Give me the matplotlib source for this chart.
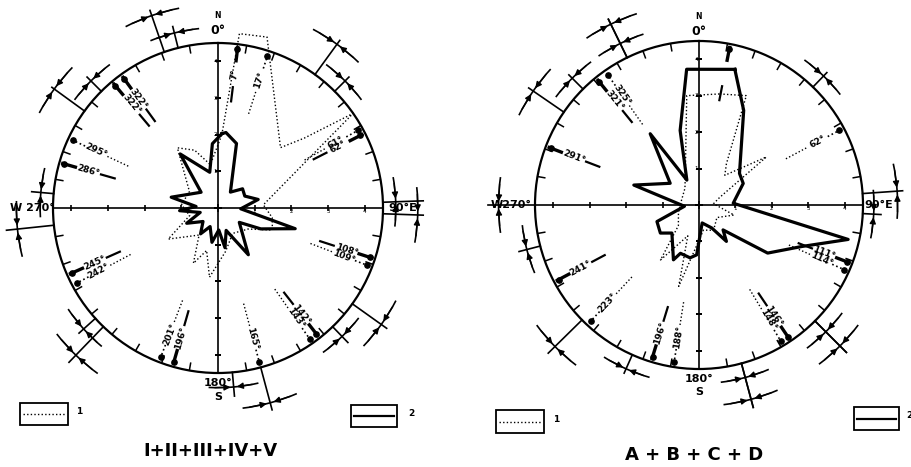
import numpy as np
import matplotlib
matplotlib.use('Agg')
import matplotlib.pyplot as plt
from matplotlib.patches import Arc, Rectangle
from matplotlib.lines import Line2D

# Values: compass bearing in degrees (clockwise from N)
# and radius in scale units (the outer circle is 4.5 units).

### Left rose: I + II + III + IV + V ###
left_solid_deg = [3, 6, 16, 38, 52, 66, 78, 92, 105, 116, 124, 147, 160, 170, 178,
                  190, 203, 214, 228, 244, 256, 266, 274, 283, 313, 325, 347, 355]
left_solid_r = [2.03, 2.07, 1.83, 0.55, 0.85, 0.80, 1.12, 0.62, 2.18, 1.30, 0.70, 1.52, 0.65, 1.10, 0.60,
                0.95, 0.55, 0.85, 0.55, 0.95, 0.50, 1.05, 0.60, 1.31, 0.63, 1.80, 1.00, 1.76]
left_dot_deg = [3, 7, 16, 46, 51, 55, 86, 100, 112, 125, 150, 170, 187, 195, 204, 215,
                238, 255, 275, 300, 326, 338, 350]
left_dot_r = [2.0, 4.79, 4.85, 2.37, 3.03, 4.5, 1.24, 1.5, 1.6, 1.0, 0.8, 1.2, 1.9, 1.2, 1.65, 0.9,
              1.6, 0.8, 1.0, 0.9, 1.98, 1.7, 1.2]
left_mark_deg = [7, 18, 61, 63, 108, 111, 142, 145, 165, 196, 201, 242, 246, 286, 295, 320, 324]
left_mark_lab = ['7°', '17°', '61°', '62°', '108°', '109°', '142°', '143°', '165°', '196°', '201°',
                 '242°', '245°', '286°', '295°', '322°', '322°']
left_mark_kind = ['s', 'd', 'd', 's', 's', 'd', 's', 'd', 'd', 's', 'd', 'd', 's', 's', 'd', 's', 's']
left_range_deg = [341, 346, 306, 315, 275, 264, 36, 45, 88, 92, 125.5, 136, 165, 175, 224, 228]
left_range_len = [5.7, 5.1, 5.6, 5.05, 5.1, 5.8, 5.65, 5.05, 5.6, 5.6, 5.65, 5.1, 5.7, 5.15, 5.85, 5.1]
left_range_arc = [5.55, 4.92, 5.52, 4.9, 4.85, 5.5, 5.52, 4.9, 4.85, 5.45, 5.47, 4.87, 5.5, 4.9, 5.58, 4.93]

### Right rose: A + B + C + D ###
right_solid_deg = [14.8, 25.3, 52, 64, 87, 103, 112, 125, 136, 143, 151, 170, 182.7, 189.6,
                   201, 205, 224, 234, 248.5, 265, 287, 307, 325.6, 334, 345.8, 354.8]
right_solid_r = [3.85, 2.87, 1.41, 1.35, 0.94, 4.2, 3.04, 2.3, 0.95, 1.25, 0.72, 0.5, 1.37, 1.47,
                 1.42, 1.66, 1.07, 1.31, 1.24, 0.4, 1.87, 0.99, 2.37, 0.76, 2.11, 3.74]
right_dot_deg = [10.6, 23.4, 33.6, 41, 54.5, 70, 85, 106, 125, 150, 170, 194, 200, 215,
                 225, 250, 280, 320, 334, 353.6]
right_dot_r = [3.1, 3.27, 1.36, 1.08, 2.27, 0.6, 0.4, 1.0, 0.6, 0.8, 0.7, 2.3, 0.9, 1.84,
               0.8, 0.6, 0.5, 0.6, 0.86, 3.02]
right_mark_deg = [11, 62, 111, 114, 146, 149, 189, 197, 223, 242, 291, 321, 325]
right_mark_lab = ['', '62°', '111°', '114°', '146°', '148°', '188°', '196°', '223°', '241°',
                  '291°', '321°', '325°']
right_mark_kind = ['s', 'd', 's', 'd', 's', 'd', 'd', 's', 'd', 's', 's', 's', 'd']
right_range_deg = [334, 334, 304.5, 315, 270, 255.5, 225.5, 204, 165, 165, 135, 135, 86, 93, 44]
right_range_len = [5.67, 5.67, 5.67, 5.05, 5.8, 5.1, 5.8, 5.05, 5.75, 5.75, 5.72, 5.72, 5.6, 5.0, 5.05]
right_range_arc = [5.52, 4.93, 5.52, 4.92, 5.5, 4.88, 5.54, 4.92, 4.9, 5.52, 4.92, 5.47, 5.45, 4.8, 4.92]

RMAX = 4.5
W, H = 912, 467
DOT = (0, (1, 1.6))
BOLD = dict(fontweight='bold', color='k')


def setup(ax):
    ax.set_theta_zero_location('N')
    ax.set_theta_direction(-1)
    ax.set_ylim(0, RMAX)
    ax.grid(False)
    ax.set_xticks([])
    ax.set_yticks([])
    ax.spines['polar'].set_linewidth(1.6)
    # the N-S / E-W cross with unit ticks
    for a in (0, 90, 180, 270):
        t = np.radians(a)
        ax.plot([t, t], [0, RMAX], color='k', lw=1.2)
        ax.plot([t] * 4, [1, 2, 3, 4], ls='none', marker='_' if a in (0, 180) else '|',
                ms=5, mew=1.2, color='k')
    for i in (1, 2, 3, 4):
        ax.text(np.radians(-4.5 / i), i, str(i), fontsize=4, ha='center', va='center')
        ax.text(np.radians(90 + 5 / i), i, str(i), fontsize=4, ha='center', va='center')
    ax.plot(0, 0, marker='+', ms=6, mew=1.2, color='k')
    # ticks round the rim every 10 degrees
    for a in range(10, 360, 10):
        if a % 90:
            ax.plot([np.radians(a)] * 2, [RMAX * 0.955, RMAX], color='k', lw=1.1)


def rose(ax, deg, r, **kw):
    t = np.radians(list(deg) + [deg[0]])
    ax.plot(t, list(r) + [r[0]], color='k', clip_on=False, **kw)


def marks(ax, deg, lab, kind):
    for a, s, k in zip(deg, lab, kind):
        t = np.radians(a)
        if k == 's':
            ax.plot([t, t], [4.0, 4.45], color='k', lw=2.4, solid_capstyle='butt')
            ax.plot([t, t], [2.9, 3.35], color='k', lw=1.6, solid_capstyle='butt')
        else:
            ax.plot([t, t], [4.0, 4.45], color='k', lw=1.2, ls=DOT)
            ax.plot([t, t], [2.7, 3.35], color='k', lw=1.0, ls=DOT)
        ax.plot(t, 4.36, marker='o', ms=3.8, color='k')
        rot = (90 - a + 90) % 180 - 90
        ax.text(t, 3.68, s, rotation=rot, rotation_mode='anchor', ha='center', va='center',
                fontsize=6.5, **BOLD)


def ranges(ax, deg, length, arc_r, half=8):
    for a, L, ra in zip(deg, length, arc_r):
        t = np.radians(a)
        ax.plot([t, t], [RMAX, L], color='k', lw=1.2, clip_on=False)
        d = ra / RMAX
        ax.add_patch(Arc((0.5, 0.5), d, d, theta1=90 - a - half, theta2=90 - a + half,
                         transform=ax.transAxes, color='k', lw=1.2, clip_on=False))
        for sgn in (-1, 1):
            ax.annotate('', xy=(np.radians(a + sgn * 1.0), ra), xytext=(np.radians(a + sgn * 6), ra),
                        arrowprops=dict(arrowstyle='-|>', color='k', lw=1.0, mutation_scale=9,
                                        shrinkA=0, shrinkB=0),
                        annotation_clip=False)


def cardinals(ax, r_n, r_0, r_180, r_s, r_w, r_e, wtxt, etxt):
    ax.text(0, r_n, 'N', fontsize=5.5, ha='center', va='center', **BOLD)
    ax.text(0, r_0, '0°', fontsize=9, ha='center', va='center', **BOLD)
    ax.text(np.pi, r_180, '180°', fontsize=8, ha='center', va='center', **BOLD)
    ax.text(np.pi, r_s, 'S', fontsize=8, ha='center', va='center', **BOLD)
    ax.text(np.radians(270), r_w, wtxt, fontsize=8, ha='center', va='center', **BOLD)
    ax.text(np.radians(90), r_e, etxt, fontsize=8, ha='center', va='center', **BOLD)


def legend_box(fig, x0, y0, x1, y1, ls, lw, label, lx, ly):
    fig.add_artist(Rectangle((x0 / W, 1 - y1 / H), (x1 - x0) / W, (y1 - y0) / H,
                             transform=fig.transFigure, fill=False, lw=1.3, ec='k'))
    ym = 1 - (y0 + y1) / 2 / H
    fig.add_artist(Line2D([(x0 + 3) / W, (x1 - 3) / W], [ym, ym], transform=fig.transFigure,
                          color='k', lw=lw, ls=ls))
    fig.text(lx / W, 1 - ly / H, label, fontsize=6.5, ha='center', va='center', **BOLD)


fig = plt.figure(figsize=(W / 100, H / 100), dpi=100)
fig.patch.set_facecolor('white')

axl = fig.add_axes([53 / W, 1 - 373 / H, 330 / W, 330 / H], projection='polar')
setup(axl)
rose(axl, left_dot_deg, left_dot_r, lw=1.0, ls=DOT)
rose(axl, left_solid_deg, left_solid_r, lw=2.3)
marks(axl, left_mark_deg, left_mark_lab, left_mark_kind)
ranges(axl, left_range_deg, left_range_len, left_range_arc)
cardinals(axl, 5.26, 4.85, 4.77, 5.15, 5.05, 5.05, 'W 270°', '90°E')

axr = fig.add_axes([535 / W, 1 - 369 / H, 328 / W, 328 / H], projection='polar')
setup(axr)
rose(axr, right_dot_deg, right_dot_r, lw=1.0, ls=DOT)
rose(axr, right_solid_deg, right_solid_r, lw=2.3)
marks(axr, right_mark_deg, right_mark_lab, right_mark_kind)
ranges(axr, right_range_deg, right_range_len, right_range_arc)
cardinals(axr, 5.18, 4.77, 4.77, 5.12, 5.15, 4.93, 'W270°', '90°E')

legend_box(fig, 20, 403, 68, 425, DOT, 1.0, '1', 79, 411)
legend_box(fig, 351, 405, 397, 427, '-', 1.6, '2', 411, 413)
legend_box(fig, 496, 410, 544, 433, DOT, 1.0, '1', 556, 419)
legend_box(fig, 854, 407, 899, 430, '-', 1.6, '2', 909, 416)

fig.text(210 / W, 1 - 451 / H, 'I+II+III+IV+V', fontsize=13, ha='center', va='center', **BOLD)
fig.text(694 / W, 1 - 455 / H, 'A + B + C + D', fontsize=13, ha='center', va='center', **BOLD)

fig.savefig('out.png', dpi=100, facecolor='white')
